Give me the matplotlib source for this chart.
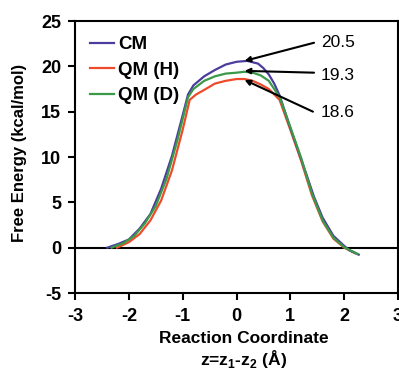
import matplotlib
matplotlib.use("Agg")
import matplotlib.pyplot as plt

plt.rcParams['font.family'] = ['Liberation Sans', 'DejaVu Sans']
plt.rcParams['mathtext.fontset'] = 'custom'
plt.rcParams['mathtext.rm'] = 'Liberation Sans'
plt.rcParams['mathtext.bf'] = 'Liberation Sans:bold'
plt.rcParams['axes.unicode_minus'] = False

# reaction coordinate / free energy
z_cm = [-2.40, -2.2, -2.0, -1.8, -1.6, -1.4, -1.2, -1.0, -0.9, -0.8, -0.6, -0.4, -0.2,
        0.0, 0.2, 0.4, 0.5, 0.6, 0.7, 0.8, 1.0, 1.2, 1.44, 1.6, 1.8, 2.0, 2.1, 2.27]
e_cm = [0.0, 0.4, 0.9, 2.1, 3.7, 6.5, 10.1, 14.6, 16.9, 17.9, 18.9, 19.6, 20.2,
        20.5, 20.6, 20.3, 19.8, 19.1, 18.1, 16.8, 13.2, 9.8, 5.6, 3.3, 1.3, 0.2, -0.3, -0.77]

z_qmh = [-2.22, -2.0, -1.8, -1.6, -1.4, -1.2, -1.0, -0.87, -0.75, -0.6, -0.4, -0.2, 0.0,
         0.15, 0.3, 0.45, 0.6, 0.8, 1.0, 1.2, 1.4, 1.6, 1.8, 2.0, 2.2]
e_qmh = [0.0, 0.6, 1.5, 3.0, 5.2, 8.5, 13.0, 16.3, 16.9, 17.4, 18.1, 18.4, 18.6,
         18.6, 18.4, 18.0, 17.5, 16.3, 13.0, 9.6, 5.8, 2.9, 1.0, 0.0, -0.6]

z_qmd = [-2.32, -2.1, -1.9, -1.7, -1.5, -1.3, -1.1, -0.9, -0.8, -0.6, -0.4, -0.2, 0.0,
         0.15, 0.3, 0.45, 0.6, 0.8, 1.0, 1.2, 1.4, 1.6, 1.8, 2.0, 2.25]
e_qmd = [0.0, 0.5, 1.3, 2.7, 4.6, 7.6, 11.8, 16.6, 17.5, 18.4, 18.9, 19.2, 19.3,
         19.4, 19.3, 19.0, 18.4, 16.6, 13.3, 9.9, 6.0, 3.0, 1.1, 0.05, -0.7]

barriers = ["20.5", "19.3", "18.6"]
arrow_tips = [(0.15, 20.6), (0.15, 19.5), (0.15, 18.5)]
arrow_tails = [(1.44, 22.6), (1.44, 19.3), (1.42, 15.0)]
label_pos = [(1.57, 22.6), (1.57, 19.0), (1.57, 14.9)]

fig = plt.figure(figsize=(3.99, 3.79), dpi=100)
ax = fig.add_axes([75 / 399, 86 / 379, 323 / 399, 272 / 379])

ax.axhline(0, color='black', lw=1.5, zorder=1)
l_h, = ax.plot(z_qmh, e_qmh, color='#EE4B2B', lw=1.6, label='QM (H)')
l_cm, = ax.plot(z_cm, e_cm, color='#4B3C9E', lw=1.6, label='CM')
l_d, = ax.plot(z_qmd, e_qmd, color='#3A9A48', lw=1.6, label='QM (D)')

for txt, tip, tail, pos in zip(barriers, arrow_tips, arrow_tails, label_pos):
    ax.annotate('', xy=tip, xytext=tail,
                arrowprops=dict(arrowstyle='-|>', color='black', lw=1.5,
                                mutation_scale=8, shrinkA=0, shrinkB=0))
    ax.text(pos[0], pos[1], txt, fontsize=12.5, ha='left', va='center')

ax.set_xlim(-3, 3)
ax.set_ylim(-5, 25)
ax.set_xticks(range(-3, 4))
ax.set_yticks(range(-5, 26, 5))

for s in ax.spines.values():
    s.set_linewidth(1.5)
ax.tick_params(direction='out', length=5, width=1.5, labelsize=13, pad=5)
ax.tick_params(axis='x', pad=6)
for lab in ax.get_xticklabels() + ax.get_yticklabels():
    lab.set_fontweight('bold')

ax.set_ylabel('Free Energy (kcal/mol)', fontsize=12, fontweight='bold')
ax.yaxis.set_label_coords(-0.15, 0.515)
ax.set_xlabel('Reaction Coordinate\n' + r'z=z$_\mathbf{1}$-z$_\mathbf{2}$ (Å)',
              fontsize=12.5, fontweight='bold', linespacing=1.1)
ax.xaxis.set_label_coords(0.523, -0.14)

ax.legend(handles=[l_cm, l_h, l_d], loc='upper left', bbox_to_anchor=(0.046, 0.945),
          frameon=False, borderaxespad=0, borderpad=0, handlelength=1.3,
          handletextpad=0.2, labelspacing=0.45, prop={'weight': 'bold', 'size': 13.5})

fig.savefig('out.png', dpi=100)
